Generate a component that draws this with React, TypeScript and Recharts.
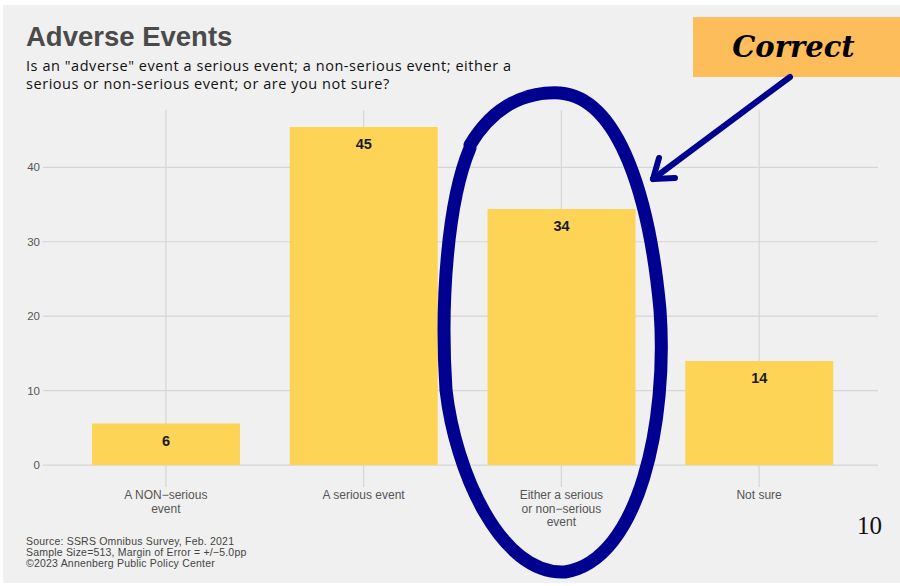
import { BarChart, Bar, XAxis, YAxis, CartesianGrid, LabelList } from "recharts";

const categories = ["A NON−serious event", "A serious event", "Either a serious or non−serious event", "Not sure"];
const tickLines = [["A NON−serious", "event"], ["A serious event"], ["Either a serious", "or non−serious", "event"], ["Not sure"]];
const shares = [5.6, 45.4, 34.4, 14.0];
const yTicks = [0, 10, 20, 30, 40];
const sourceLines = [
  "Source: SSRS Omnibus Survey, Feb. 2021",
  "Sample Size=513, Margin of Error = +/−5.0pp",
  "©2023 Annenberg Public Policy Center",
];

const data = categories.map((c, i) => ({ name: c, value: shares[i] }));

const XTick = (props: any) => {
  const { x, y, index } = props;
  const lines = tickLines[index] || [];
  return (
    <text x={x} y={y + 10} textAnchor="middle" fill="#555" fontSize={12} fontFamily="Liberation Sans, Arial, sans-serif">
      {lines.map((l, i) => (
        <tspan key={i} x={x} dy={i === 0 ? 0 : 13.5}>{l}</tspan>
      ))}
    </text>
  );
};

export default function App() {
  return (
    <div style={{ position: "absolute", left: 0, top: 0, width: 900, height: 586, background: "#fff", overflow: "hidden" }}>
      <div style={{ position: "absolute", left: 3, top: 5, width: 897, height: 578, background: "#f0f0f0" }} />
      <div style={{ position: "absolute", left: 0, top: 0 }}>
        <BarChart width={900} height={586} data={data} margin={{ top: 110, right: 22, bottom: 74, left: 0 }}>
          <CartesianGrid stroke="#d6d6d6" strokeWidth={1.2} syncWithTicks />
          <XAxis
            dataKey="name"
            padding={{ left: 20, right: 20 }}
            axisLine={false}
            tickLine={{ stroke: "#cfcfcf" }}
            tickSize={5}
            tick={<XTick />}
            interval={0}
            height={30}
          />
          <YAxis
            width={47}
            domain={[-2.27, 47.7]}
            ticks={yTicks}
            axisLine={false}
            tickLine={{ stroke: "#cfcfcf" }}
            tickSize={4}
            tickMargin={3}
            tick={{ fill: "#555", fontSize: 11.5, fontFamily: "Liberation Sans, Arial, sans-serif" }}
          />
          <Bar dataKey="value" fill="#fdd456" barSize={148} isAnimationActive={false}>
            <LabelList
              dataKey="value"
              position="insideTop"
              offset={12}
              formatter={(v: any) => Math.round(Number(v))}
              style={{ fill: "#1a1a1a", fontSize: 14.5, fontWeight: "bold", fontFamily: "Liberation Sans, Arial, sans-serif" }}
            />
          </Bar>
        </BarChart>
      </div>
      <div style={{ position: "absolute", left: 26, top: 21, fontFamily: "Liberation Sans, Arial, sans-serif", fontWeight: "bold", fontSize: 27.5, color: "#4a4a4a" }}>
        Adverse Events
      </div>
      <div style={{ position: "absolute", left: 26, top: 57, width: 540, fontFamily: "Open Sans, sans-serif", fontSize: 14.5, letterSpacing: 0.55, lineHeight: "18px", color: "#111" }}>
        Is an "adverse" event a serious event; a non-serious event; either a<br />
        serious or non-serious event; or are you not sure?
      </div>
      <div style={{ position: "absolute", left: 26, top: 536, fontFamily: "Liberation Sans, Arial, sans-serif", fontSize: 10.5, letterSpacing: 0.2, lineHeight: "11px", color: "#444" }}>
        {sourceLines.map((s, i) => (
          <div key={i}>{s}</div>
        ))}
      </div>
      <div style={{ position: "absolute", left: 857, top: 512, fontFamily: "Liberation Serif, serif", fontSize: 25, color: "#111" }}>
        10
      </div>
      <div style={{ position: "absolute", left: 693, top: 17, width: 207, height: 60, background: "#fdbd5a", display: "flex", alignItems: "center", justifyContent: "center" }}>
        <span style={{ fontFamily: "DejaVu Serif, serif", fontWeight: "bold", fontStyle: "italic", fontSize: 29, color: "#000", marginLeft: -6 }}>Correct</span>
      </div>
      <svg width={900} height={586} style={{ position: "absolute", left: 0, top: 0, pointerEvents: "none" }}>
        <g fill="none" stroke="#000090" strokeLinecap="round" strokeLinejoin="round">
          <path d="M 790 77 L 653 179" strokeWidth={6} />
          <path d="M 659 158 L 653 179 L 675 178" strokeWidth={6} />
          <path d="M 470 145 C 500 95, 540 92, 560 93 C 620 98, 650 200, 660 310 C 668 420, 640 560, 565 572 C 500 575, 455 470, 446 390 C 440 300, 448 200, 470 148" strokeWidth={13} />
        </g>
      </svg>
    </div>
  );
}
